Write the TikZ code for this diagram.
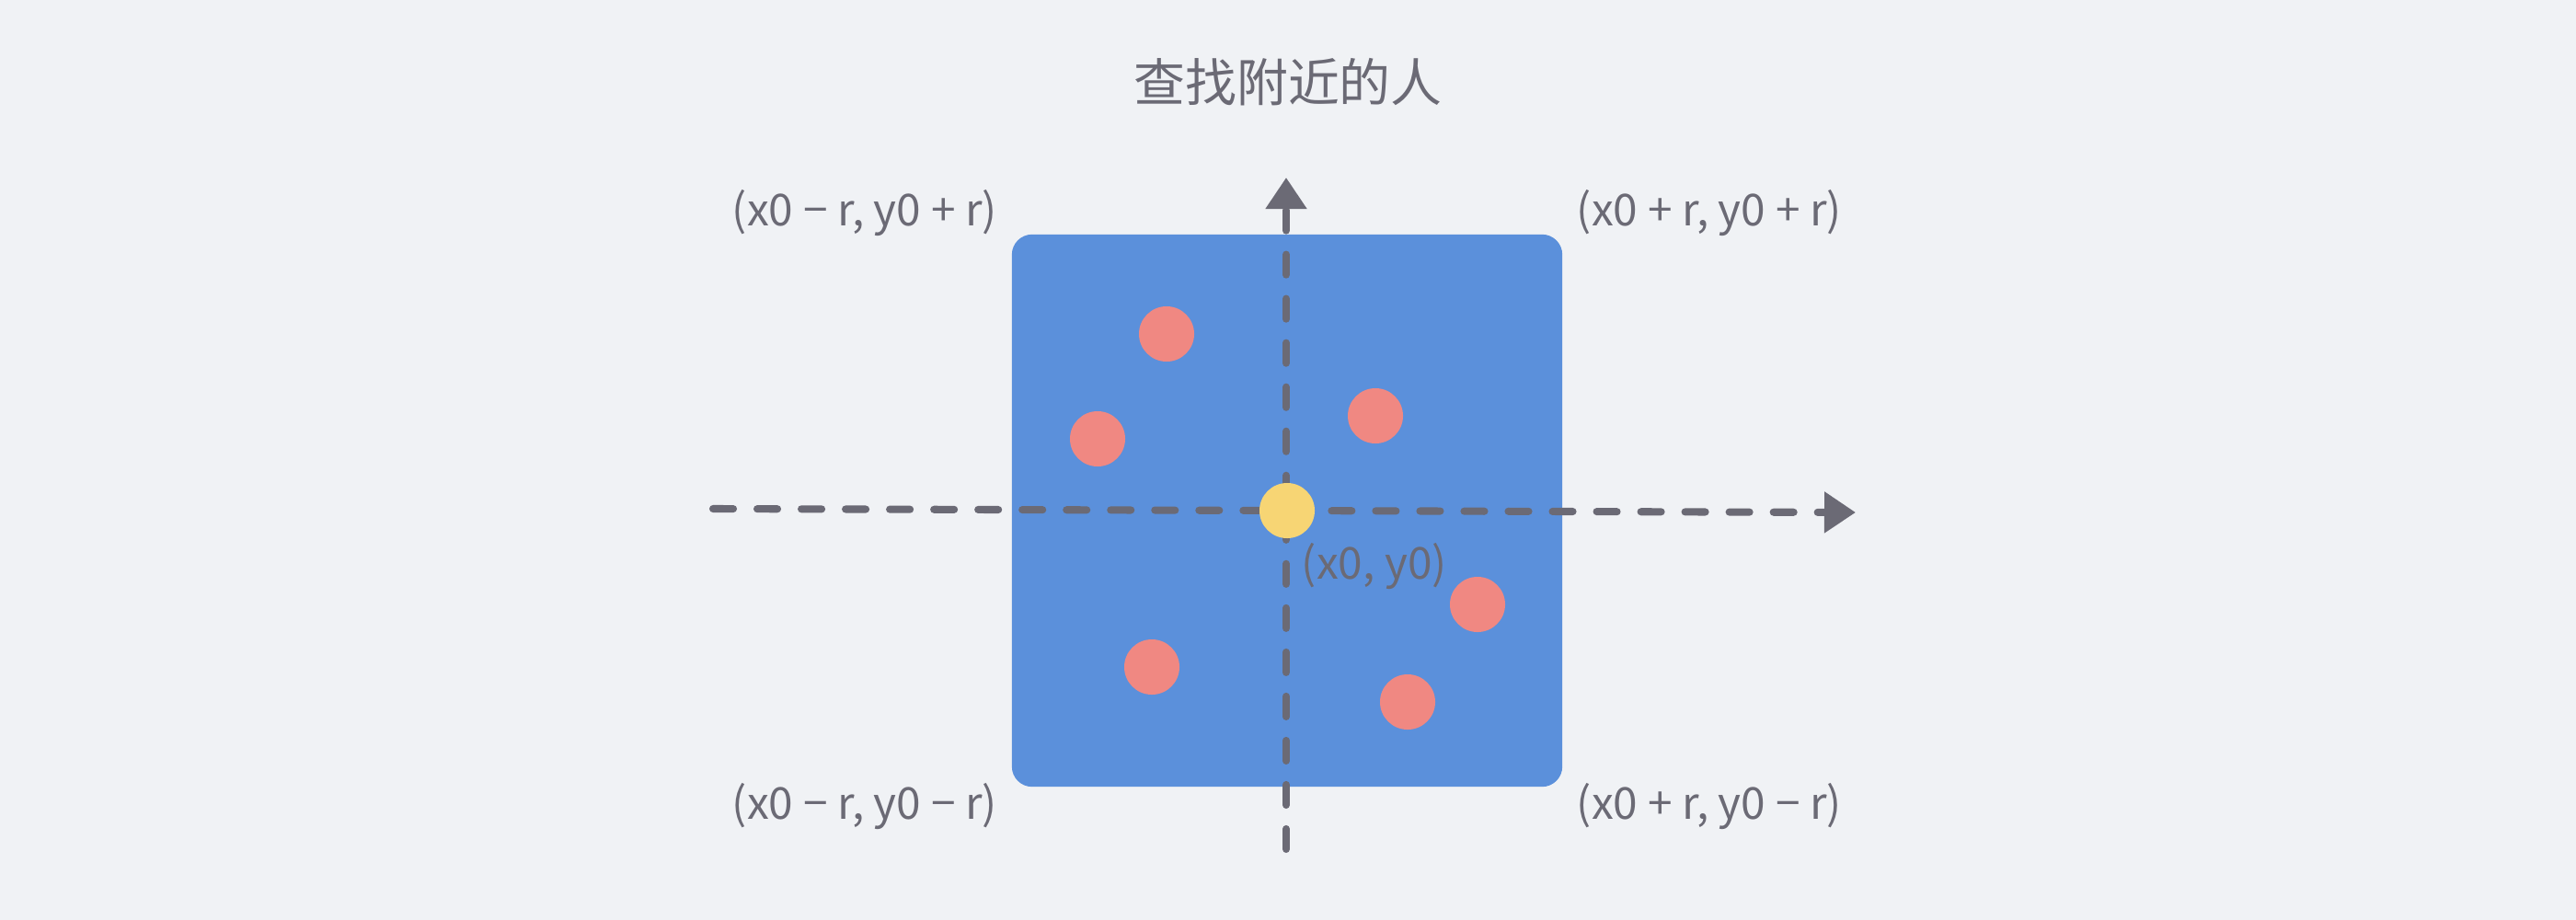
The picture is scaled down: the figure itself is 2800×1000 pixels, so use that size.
\documentclass[tikz,border=0pt]{standalone}
\usepackage{fontspec}
\setmainfont{Noto Sans CJK SC}
\usetikzlibrary{arrows.meta}
\definecolor{PageBg}{HTML}{F0F2F5}
\definecolor{AxisGray}{HTML}{6B6A75}
\definecolor{AreaBlue}{HTML}{5B90DB}
\definecolor{PeopleRed}{HTML}{F08882}
\definecolor{SelfYellow}{HTML}{F7D574}
\tikzset{
  area/.style={fill=AreaBlue, rounded corners=0.22cm, inner sep=0pt,
               minimum width=5.98cm, minimum height=6cm},
  person/.style={circle, fill=PeopleRed, minimum size=0.6cm, inner sep=0pt},
  self/.style={circle, fill=SelfYellow, minimum size=0.6cm, inner sep=0pt},
  axis/.style={draw=AxisGray, line width=2.3pt, line cap=round,
               dash pattern=on 0.22cm off 0.26cm,
               -{Triangle[length=0.34cm, width=0.43cm, line cap=butt]}},
  corner/.style={font=\fontsize{13.6}{16}\selectfont, text=AxisGray},
  title/.style={font=\fontsize{15.9}{19}\selectfont, text=AxisGray},
}
\begin{document}
\begin{tikzpicture}[x=0.01cm, y=-0.01cm]
  \fill[PageBg] (0,0) rectangle (2800,1000);
  \useasboundingbox (0,0) rectangle (2800,1000);

  \node[title] (heading) at (1400,89) {查找附近的人};

  % search square round (x0, y0)
  \node[area] (square) at (1399,555) {};

  % axis ends
  \coordinate (xstart) at (775,553);
  \coordinate (xend) at (2017,557);
  \coordinate (ystart) at (1398,923);
  \coordinate (yend) at (1398,193);
  \draw[axis] (xstart) -- (xend);
  \draw[axis] (ystart) -- (yend);

  % people round
  \node[person] (p1) at (1268,363) {};
  \node[person] (p2) at (1193,477) {};
  \node[person] (p3) at (1495,452) {};
  \node[person] (p4) at (1606,657) {};
  \node[person] (p5) at (1252,725) {};
  \node[person] (p6) at (1530,763) {};
  \node[self] (me) at (1399,555) {};
  \node[corner] (melab) at (1494,616) {(x0, y0)};

  \node[corner] (tl) at (940,232) {(x0 − r, y0 + r)};
  \node[corner] (tr) at (1858,232) {(x0 + r, y0 + r)};
  \node[corner] (bl) at (940,877) {(x0 − r, y0 − r)};
  \node[corner] (br) at (1858,877) {(x0 + r, y0 − r)};
\end{tikzpicture}
\end{document}
